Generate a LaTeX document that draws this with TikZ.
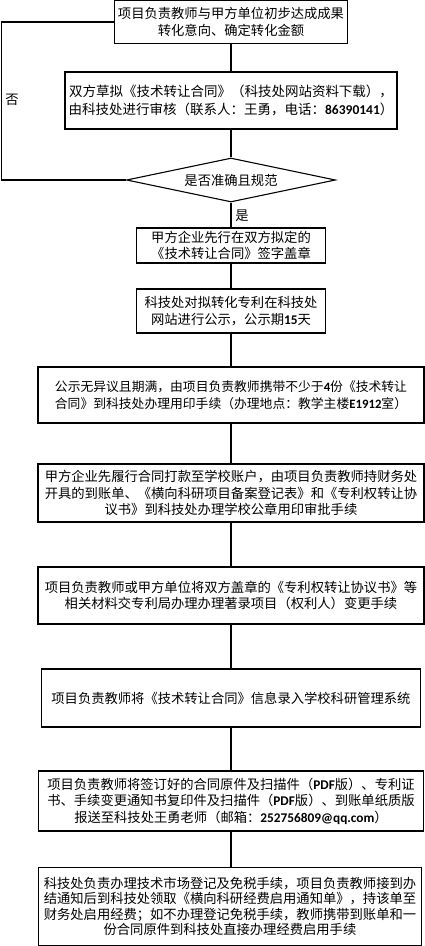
\documentclass[tikz,border=0pt]{standalone}
\usepackage{fontspec}
\setmainfont{Noto Sans CJK SC}
\newfontfamily\numfont{Carlito}
\newcommand{\numb}[1]{{\numfont\bfseries #1}}
\usetikzlibrary{shapes.geometric}
\begin{document}
\begin{tikzpicture}[x=1pt,y=-1pt,
  box/.style={draw, line width=1.1pt, align=center, inner sep=0pt, font=\fontsize{13.3pt}{16.5pt}\selectfont},
  link/.style={line width=1.1pt},
  lbl/.style={inner sep=0pt, font=\fontsize{13.3pt}{16pt}\selectfont}]
\useasboundingbox (0,0) rectangle (425,946);
\node[box, minimum width=233pt, minimum height=43pt] (b1) at (231,22) {项目负责教师与甲方单位初步达成成果\\转化意向、确定转化金额};
\node[box, minimum width=332pt, minimum height=57pt, font=\fontsize{13.5pt}{17.5pt}\selectfont] (b2) at (231,100.5) {双方草拟《技术转让合同》（科技处网站资料下载），\\由科技处进行审核（联系人：王勇，电话：\numb{86390141}）};
\node[draw, diamond, aspect=4.75, minimum width=209pt, minimum height=44pt, inner sep=0pt, line width=1.1pt, font=\fontsize{13.3pt}{16pt}\selectfont] (d) at (231,180) {是否准确且规范};
\node[box, minimum width=189pt, minimum height=35pt] (b3) at (231,245.5) {甲方企业先行在双方拟定的\\《技术转让合同》签字盖章};
\node[box, minimum width=189pt, minimum height=44pt] (b4) at (231,311) {科技处对拟转化专利在科技处\\网站进行公示，公示期\numb{15}天};
\node[box, minimum width=386pt, minimum height=56pt, font=\fontsize{12.8pt}{17.5pt}\selectfont] (b5) at (231,395) {公示无异议且期满，由项目负责教师携带不少于\numb{4}份《技术转让\\合同》到科技处办理用印手续（办理地点：教学主楼\numb{E1912}室）};
\node[box, minimum width=386pt, minimum height=58pt] (b6) at (231,493) {甲方企业先履行合同打款至学校账户，由项目负责教师持财务处\\开具的到账单、《横向科研项目备案登记表》和《专利权转让协\\议书》到科技处办理学校公章用印审批手续};
\node[box, minimum width=386pt, minimum height=57pt] (b7) at (231,595.5) {项目负责教师或甲方单位将双方盖章的《专利权转让协议书》等\\相关材料交专利局办理办理著录项目（权利人）变更手续};
\node[box, minimum width=379pt, minimum height=58pt] (b8) at (231,698) {项目负责教师将《技术转让合同》信息录入学校科研管理系统};
\node[box, minimum width=385pt, minimum height=60pt] (b9) at (231,801) {项目负责教师将签订好的合同原件及扫描件（\numb{PDF}版）、专利证\\书、手续变更通知书复印件及扫描件（\numb{PDF}版）、到账单纸质版\\报送至科技处王勇老师（邮箱：\numb{252756809@qq.com}）};
\node[box, minimum width=383pt, minimum height=78pt, font=\fontsize{13.3pt}{15.3pt}\selectfont] (b10) at (230,906.5) {科技处负责办理技术市场登记及免税手续，项目负责教师接到办\\结通知后到科技处领取《横向科研经费启用通知单》，持该单至\\财务处启用经费；如不办理登记免税手续，教师携带到账单和一\\份合同原件到科技处直接办理经费启用手续};
\coordinate (fb) at (1.5,0);
\draw[link] (b1.south) -- (b2.north);
\draw[link] (b2.south) -- (d.north);
\draw[link] (d.south) -- (b3.north);
\draw[link] (b3.south) -- (b4.north);
\draw[link] (b4.south) -- (b5.north);
\draw[link] (b5.south) -- (b6.north);
\draw[link] (b6.south) -- (b7.north);
\draw[link] (b7.south) -- (b8.north);
\draw[link] (b8.south) -- (b9.north);
\draw[link] (b9.south) -- (b9.south |- b10.north);
\draw[link] (d.west) -- (d.west -| fb) -- (fb |- b1.west) -- (b1.west);
\node[lbl] (no) at (12,100) {否};
\node[lbl] (yes) at (242,216) {是};
\end{tikzpicture}
\end{document}
